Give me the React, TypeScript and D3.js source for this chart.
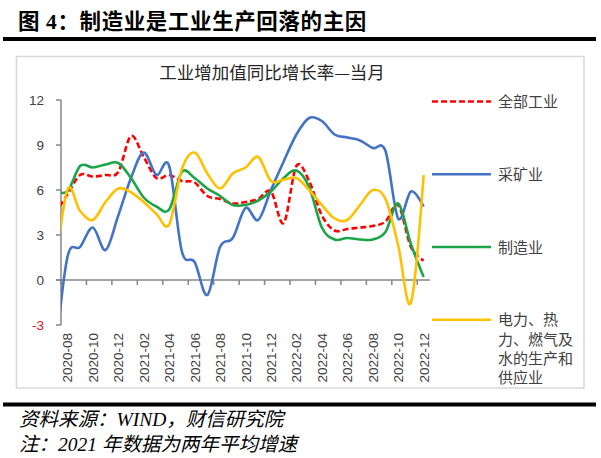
import React from "react";
import * as d3 from "d3";

const months = [
  "2020-07", "2020-08", "2020-09", "2020-10", "2020-11", "2020-12",
  "2021-01", "2021-02", "2021-03", "2021-04", "2021-05", "2021-06",
  "2021-07", "2021-08", "2021-09", "2021-10", "2021-11", "2021-12",
  "2022-01", "2022-02", "2022-03", "2022-04", "2022-05", "2022-06",
  "2022-07", "2022-08", "2022-09", "2022-10", "2022-11", "2022-12",
];

const totalIndustry = [
  4.4, 5.7, 7.0, 6.9, 7.0, 7.2, 9.6, 8.2, 6.8, 7.0, 6.6, 6.5,
  5.6, 5.4, 5.1, 5.2, 5.4, 5.9, 3.8, 7.6, 6.6, 4.3, 3.3, 3.4,
  3.5, 3.6, 3.9, 5.0, 2.2, 1.3,
];
const mining = [
  -5.5, 1.5, 2.2, 3.5, 2.0, 4.3, 6.8, 8.5, 7.0, 7.6, 1.9, 1.2,
  -1.0, 2.2, 2.8, 4.8, 4.0, 6.0, 7.9, 9.7, 10.8, 10.6, 9.7, 9.5,
  9.3, 8.8, 8.6, 4.1, 5.9, 4.9,
];
const manufacturing = [
  6.0, 5.9, 7.6, 7.5, 7.7, 7.8, 6.8, 5.5, 4.9, 4.7, 7.2, 6.8,
  6.1, 5.6, 5.0, 5.0, 5.3, 5.9, 6.8, 7.3, 6.2, 3.5, 2.7, 2.8,
  2.7, 2.7, 3.2, 5.1, 2.4, 0.2,
];
const utilities = [
  0.2, 6.0, 4.6, 4.0, 5.2, 6.1, 5.85, 5.2, 4.4, 3.7, 7.4, 8.5,
  7.1, 6.1, 7.1, 7.5, 8.2, 6.6, 6.7, 6.8, 6.0, 5.0, 4.1, 4.0,
  5.0, 6.0, 5.4, 2.3, -1.5, 7.0,
];

const yTicks = [-3, 0, 3, 6, 9, 12];
const xLabels = months.slice(1).filter((_, i) => i % 2 === 0);

const seriesList = [
  { name: "全部工业", values: totalIndustry, color: "#FF0000", dash: "6,3" },
  { name: "采矿业", values: mining, color: "#4472C4", dash: "" },
  { name: "制造业", values: manufacturing, color: "#1BA548", dash: "" },
  { name: "电力、热力、燃气及水的生产和供应业", values: utilities, color: "#FFC000", dash: "" },
];
const legendLines = [["全部工业"], ["采矿业"], ["制造业"], ["电力、热", "力、燃气及", "水的生产和", "供应业"]];

const plot = { left: 61, right: 430, top: 100, bottom: 325 };
const nCats = 29;

export default function App() {
  const x = d3.scaleLinear().domain([0, nCats]).range([plot.left, plot.right]);
  const y = d3.scaleLinear().domain([-3, 12]).range([plot.bottom, plot.top]);
  const xc = (k: number) => x(k - 0.5); // k index in months (0 = 2020-07)
  const line = d3
    .line<number>()
    .x((_, k) => xc(k))
    .y((v) => y(v))
    .curve(d3.curveCardinal.tension(0));

  const axisColor = "#868686";
  const textColor = "#404040";
  const sans = "'Liberation Sans', Arial, sans-serif";
  const cjk = "'Noto Sans CJK SC', sans-serif";
  const serifCjk = "'Liberation Serif', 'Noto Sans CJK SC', serif";
  const legendY = [y(11.9), y(7.05), y(2.2), y(-2.65)];

  return (
    <svg width={601} height={458} style={{ position: "absolute", left: 0, top: 0, background: "#fff" }}>
      <defs>
        <clipPath id="plotClip">
          <rect x={plot.left} y={90} width={plot.right - plot.left + 2} height={245} />
        </clipPath>
      </defs>
      {/* Header */}
      <text x={18} y={29} fontFamily={serifCjk} fontWeight={700} fontSize={21.5} letterSpacing={0.6} fill="#000">
        图 4：制造业是工业生产回落的主因
      </text>
      <rect x={3} y={37} width={593} height={4} fill="#000" />

      {/* Chart frame */}
      <rect x={16.5} y={56.5} width={567.5} height={331.5} fill="#fff" stroke="#d9d9d9" strokeWidth={1.5} />

      <text x={272} y={79} textAnchor="middle" fontFamily={cjk} fontSize={17.5} fill="#262626">
        工业增加值同比增长率—当月
      </text>

      {/* Y axis */}
      <line x1={plot.left} x2={plot.left} y1={plot.top} y2={plot.bottom} stroke={axisColor} strokeWidth={1.5} />
      {yTicks.map((t) => (
        <g key={t}>
          <line x1={plot.left - 5} x2={plot.left} y1={y(t)} y2={y(t)} stroke={axisColor} strokeWidth={1.5} />
          <text x={44} y={y(t) + 5} textAnchor="end" fontFamily={sans} fontSize={13.5} fill={t < 0 ? "#E0101A" : textColor}>
            {t}
          </text>
        </g>
      ))}

      {/* X axis */}
      <line x1={plot.left - 5} x2={plot.right} y1={y(0)} y2={y(0)} stroke={axisColor} strokeWidth={1.5} />
      {d3.range(0, nCats, 2).map((b) => (
        <line key={b} x1={x(b)} x2={x(b)} y1={y(0)} y2={y(0) + 5} stroke={axisColor} strokeWidth={1.5} />
      ))}
      {xLabels.map((lab, j) => {
        const cx = x(j * 2 + 0.5);
        return (
          <text
            key={lab}
            transform={`translate(${cx + 5},333) rotate(-90)`}
            textAnchor="end"
            fontFamily={sans}
            fontSize={13.5}
            fill={textColor}
          >
            {lab}
          </text>
        );
      })}

      {/* Series */}
      <g clipPath="url(#plotClip)">
        {seriesList.map((s) => (
          <path
            key={s.name}
            d={line(s.values) || ""}
            fill="none"
            stroke={s.color}
            strokeWidth={2.6}
            strokeDasharray={s.dash || undefined}
            strokeLinejoin="round"
          />
        ))}
      </g>

      {/* Legend */}
      {seriesList.map((s, i) => (
        <g key={s.name}>
          <line x1={432} x2={491} y1={legendY[i]} y2={legendY[i]} stroke={s.color} strokeWidth={2.6} strokeDasharray={s.dash || undefined} />
          {legendLines[i].map((ln, j) => (
            <text key={j} x={498} y={legendY[i] + 5.5 + j * 19.3} fontFamily={cjk} fontSize={15} fill={textColor}>
              {ln}
            </text>
          ))}
        </g>
      ))}

      {/* Footer */}
      <rect x={3} y={402.5} width={593} height={4} fill="#000" />
      <text x={19} y={426} fontFamily={serifCjk} fontStyle="italic" fontSize={19.5} fill="#000">
        资料来源：WIND，财信研究院
      </text>
      <text x={19} y={451} fontFamily={serifCjk} fontStyle="italic" fontSize={19.5} fill="#000">
        注：2021 年数据为两年平均增速
      </text>
    </svg>
  );
}
